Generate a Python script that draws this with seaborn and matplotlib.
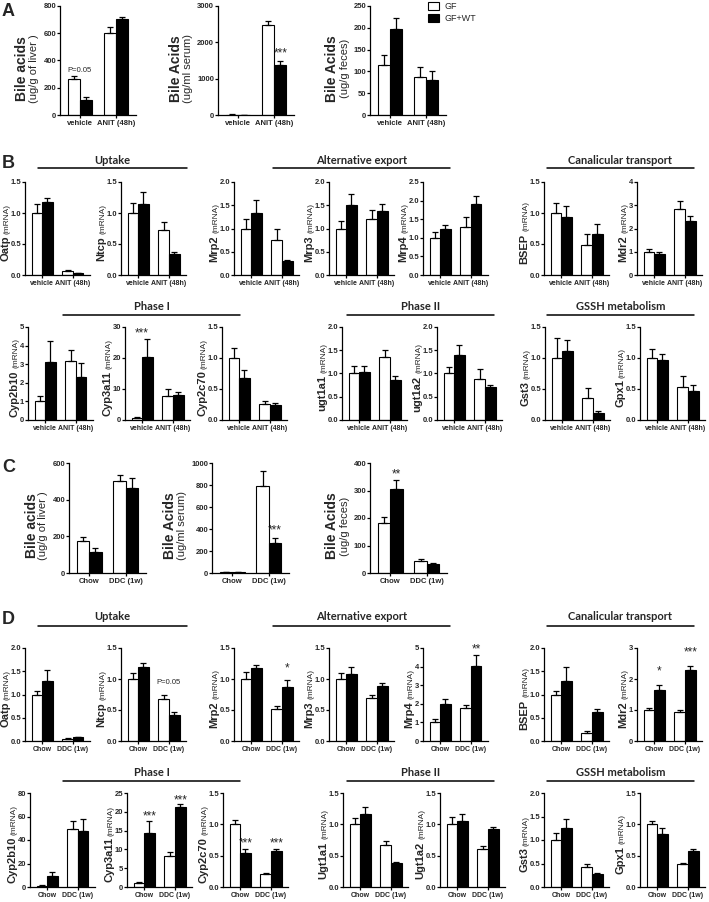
import matplotlib
matplotlib.use('Agg')
import matplotlib.pyplot as plt
from matplotlib.transforms import blended_transform_factory, IdentityTransform
import numpy as np
import pandas as pd
import seaborn as sns

GENOTYPES = ['GF', 'GF+WT']
COLORS = {'GF': 'white', 'GF+WT': 'black'}
ANIT_GROUPS = ['vehicle', 'ANIT (48h)']
DDC_GROUPS = ['Chow', 'DDC (1w)']

# every row: GF / GF+WT in first group, then GF / GF+WT in second group
A_LABELS = [('Bile acids', '(ug/g of liver )'), ('Bile Acids', '(ug/ml serum)'), ('Bile Acids', '(ug/g feces)')]
A_MEAN = [[265, 110, 600, 705], [12, 8, 2470, 1370], [115, 198, 87, 80]]
A_ERR = [[20, 25, 45, 15], [4, 3, 110, 110], [22, 25, 22, 22]]
A_YMAX = [800, 3000, 250]
A_YSTEP = [200, 1000, 50]

B1_GENES = ['Oatp', 'Ntcp', 'Mrp2', 'Mrp3', 'Mrp4', 'BSEP', 'Mdr2']
B1_MEAN = [[1.00, 1.17, 0.06, 0.03], [1.00, 1.14, 0.72, 0.34], [1.00, 1.33, 0.75, 0.30],
           [1.00, 1.50, 1.20, 1.37], [1.00, 1.25, 1.28, 1.90], [1.00, 0.93, 0.48, 0.66],
           [1.00, 0.92, 2.82, 2.32]]
B1_ERR = [[0.15, 0.08, 0.02, 0.01], [0.16, 0.20, 0.14, 0.03], [0.20, 0.28, 0.24, 0.03],
          [0.16, 0.25, 0.20, 0.15], [0.16, 0.09, 0.28, 0.22], [0.16, 0.18, 0.18, 0.16],
          [0.10, 0.05, 0.38, 0.22]]
B1_YMAX = [1.5, 1.5, 2.0, 2.0, 2.5, 1.5, 4]
B1_YSTEP = [0.5, 0.5, 0.5, 0.5, 0.5, 0.5, 1]

B2_GENES = ['Cyp2b10', 'Cyp3a11', 'Cyp2c70', 'ugt1a1', 'ugt1a2', 'Gst3', 'Gpx1']
B2_MEAN = [[1.0, 3.12, 3.17, 2.33], [0.8, 20.2, 7.7, 8.1], [1.0, 0.68, 0.26, 0.24],
           [1.0, 1.04, 1.35, 0.86], [1.0, 1.40, 0.88, 0.70], [1.0, 1.11, 0.35, 0.11],
           [1.0, 0.96, 0.54, 0.47]]
B2_ERR = [[0.3, 1.15, 0.57, 0.73], [0.2, 5.8, 2.3, 0.8], [0.16, 0.12, 0.04, 0.03],
          [0.16, 0.12, 0.16, 0.08], [0.13, 0.22, 0.21, 0.06], [0.33, 0.18, 0.16, 0.04],
          [0.15, 0.11, 0.17, 0.09]]
B2_YMAX = [5, 30, 1.5, 2.0, 2.0, 1.5, 1.5]
B2_YSTEP = [1, 10, 0.5, 0.5, 0.5, 0.5, 0.5]

C_LABELS = A_LABELS
C_MEAN = [[175, 112, 502, 465], [8, 5, 795, 275], [182, 305, 44, 32]]
C_ERR = [[22, 22, 32, 55], [3, 2, 135, 40], [22, 35, 6, 3]]
C_YMAX = [600, 1000, 400]
C_YSTEP = [200, 200, 100]

D1_GENES = B1_GENES
D1_MEAN = [[1.0, 1.30, 0.05, 0.08], [1.0, 1.20, 0.68, 0.42], [1.0, 1.18, 0.52, 0.87],
           [1.0, 1.08, 0.69, 0.88], [1.0, 2.00, 1.78, 4.05], [1.0, 1.30, 0.18, 0.63],
           [1.0, 1.65, 0.92, 2.28]]
D1_ERR = [[0.07, 0.22, 0.01, 0.01], [0.10, 0.06, 0.06, 0.04], [0.11, 0.04, 0.05, 0.12],
          [0.09, 0.12, 0.05, 0.05], [0.18, 0.25, 0.17, 0.55], [0.08, 0.30, 0.03, 0.05],
          [0.08, 0.15, 0.08, 0.15]]
D1_YMAX = [2.0, 1.5, 1.5, 1.5, 5, 2.0, 3]
D1_YSTEP = [0.5, 0.5, 0.5, 0.5, 1, 0.5, 1]

D2_GENES = ['Cyp2b10', 'Cyp3a11', 'Cyp2c70', 'Ugt1a1', 'Ugt1a2', 'Gst3', 'Gpx1']
D2_MEAN = [[1.2, 9.5, 49.5, 48], [1.0, 14.3, 8.3, 21.2], [1.0, 0.55, 0.20, 0.57],
           [1.0, 1.17, 0.67, 0.39], [1.0, 1.05, 0.60, 0.92], [1.0, 1.25, 0.43, 0.27],
           [1.0, 0.84, 0.36, 0.57]]
D2_ERR = [[0.3, 3, 7, 10], [0.3, 3.2, 1.0, 1.0], [0.07, 0.05, 0.03, 0.04],
          [0.10, 0.10, 0.06, 0.01], [0.11, 0.12, 0.05, 0.04], [0.15, 0.20, 0.05, 0.02],
          [0.06, 0.10, 0.03, 0.03]]
D2_YMAX = [80, 25, 1.5, 1.5, 1.5, 2.0, 1.5]
D2_YSTEP = [20, 5, 0.5, 0.5, 0.5, 0.5, 0.5]

# (panel row, subplot, bar index 0-3 or group 'g0'/'g1', text, y)
NOTES = [('A', 0, 'g0', 'P=0.05', 325), ('A', 1, 3, '***', 1700),
         ('B2', 1, 'g0', '***', 28.0),
         ('C', 1, 3, '***', 385), ('C', 2, 1, '**', 360),
         ('D1', 1, 'g1', 'P=0.05', 0.94), ('D1', 2, 3, '*', 1.17), ('D1', 4, 3, '**', 4.9),
         ('D1', 6, 1, '*', 2.25), ('D1', 6, 3, '***', 2.85),
         ('D2', 1, 1, '***', 18.8), ('D2', 1, 3, '***', 23.0),
         ('D2', 2, 1, '***', 0.70), ('D2', 2, 3, '***', 0.70)]

HEADERS_TOP = ['Uptake', 'Alternative export', 'Canalicular transport']
HEADERS_BOTTOM = ['Phase I', 'Phase II', 'GSSH metabolism']

sns.set_theme(style='ticks')
plt.rcParams['font.family'] = ['Liberation Sans', 'DejaVu Sans']

W, H = 709, 902
fig = plt.figure(figsize=(W / 100, H / 100), dpi=100)
bar_sets = {}


def add_px_axes(left, top, width, height):
    return fig.add_axes([left / W, 1 - (top + height) / H, width / W, height / H])


def draw_bars(ax, groups, means, errs, ymax, ystep, xsize=5.5):
    df = pd.DataFrame({
        'group': [groups[k // 2] for k in range(4)],
        'genotype': [GENOTYPES[k % 2] for k in range(4)],
        'value': means,
    })
    sns.barplot(data=df, x='group', y='value', hue='genotype', order=groups,
                hue_order=GENOTYPES, palette=COLORS, edgecolor='black', linewidth=0.8,
                width=0.68, gap=0, saturation=1, errorbar=None, legend=False, ax=ax)
    conts = list(ax.containers)
    bar_sets[ax] = conts
    for h, cont in enumerate(conts):
        for i, bar in enumerate(cont):
            x = bar.get_x() + bar.get_width() / 2
            ax.errorbar(x, bar.get_height(), yerr=[[0], [errs[i * 2 + h]]], fmt='none',
                        ecolor='black', elinewidth=0.9, capsize=2.2, capthick=0.9)
    ax.set_xlim(-0.55, 1.55)
    ax.set_ylim(0, ymax)
    ticks = np.arange(0, ymax + ystep / 2, ystep)
    ax.set_yticks(ticks)
    fmt = '{:.1f}' if ystep < 1 else '{:.0f}'
    ax.set_yticklabels([fmt.format(t) for t in ticks])
    ax.set_xlabel('')
    ax.set_ylabel('')
    sns.despine(ax=ax)
    for s in ['left', 'bottom']:
        ax.spines[s].set_linewidth(0.9)
        ax.spines[s].set_color('black')
    ax.tick_params(axis='y', length=2.0, width=0.9, pad=0.7, labelsize=5.5, color='black')
    ax.tick_params(axis='x', length=2.0, width=0.9, pad=1.5, labelsize=xsize, color='black')
    for lab in ax.get_xticklabels() + ax.get_yticklabels():
        lab.set_fontweight('bold')


axes = {}
axes['A'] = []
for k, left in enumerate([60, 218, 370]):
    ax = add_px_axes(left, 6, 76, 109)
    draw_bars(ax, ANIT_GROUPS, A_MEAN[k], A_ERR[k], A_YMAX[k], A_YSTEP[k])
    axes['A'].append(ax)

axes['B1'] = []
for k, left in enumerate([25, 121, 234, 329, 423, 544, 637]):
    ax = add_px_axes(left, 182, 65, 93)
    draw_bars(ax, ANIT_GROUPS, B1_MEAN[k], B1_ERR[k], B1_YMAX[k], B1_YSTEP[k], 5)
    axes['B1'].append(ax)

axes['B2'] = []
for k, left in enumerate([28, 125, 222, 342, 437, 545, 640]):
    ax = add_px_axes(left, 327, 65, 93)
    draw_bars(ax, ANIT_GROUPS, B2_MEAN[k], B2_ERR[k], B2_YMAX[k], B2_YSTEP[k], 5)
    axes['B2'].append(ax)

axes['C'] = []
for k, left in enumerate([69, 212, 370]):
    ax = add_px_axes(left, 463, 77, 110)
    draw_bars(ax, DDC_GROUPS, C_MEAN[k], C_ERR[k], C_YMAX[k], C_YSTEP[k])
    axes['C'].append(ax)

axes['D1'] = []
for k, left in enumerate([25, 121, 234, 329, 423, 544, 637]):
    ax = add_px_axes(left, 648, 65, 93)
    draw_bars(ax, DDC_GROUPS, D1_MEAN[k], D1_ERR[k], D1_YMAX[k], D1_YSTEP[k], 5)
    axes['D1'].append(ax)

axes['D2'] = []
for k, left in enumerate([30, 127, 223, 343, 440, 544, 640]):
    ax = add_px_axes(left, 793, 65, 94)
    draw_bars(ax, DDC_GROUPS, D2_MEAN[k], D2_ERR[k], D2_YMAX[k], D2_YSTEP[k], 5)
    axes['D2'].append(ax)

# significance marks
for key, ai, target, text, y in NOTES:
    ax = axes[key][ai]
    if isinstance(target, str):
        x = int(target[1])
    else:
        bar = bar_sets[ax][target % 2][target // 2]
        x = bar.get_x() + bar.get_width() / 2
    size = 5.5 if text.startswith('P') else 8.5
    ax.text(x, y, text, ha='center', va='center', fontsize=size)

fig.legend(handles=bar_sets[axes['A'][2]], labels=GENOTYPES, loc='upper left',
           bbox_to_anchor=(428 / W, 1 - 2 / H), frameon=False, fontsize=6.5,
           handlelength=1.2, handleheight=0.9, handletextpad=0.6, labelspacing=0.35,
           borderpad=0, borderaxespad=0)

# group headers and panel letters
ov = fig.add_axes([0, 0, 1, 1])
ov.set_xlim(0, W)
ov.set_ylim(H, 0)
ov.axis('off')
spans_top = [(38, 187), (273, 450), (547, 694)]
spans_bottom = [(63, 240), (347, 494), (547, 694)]
for names, spans, ty, ly in [(HEADERS_TOP, spans_top, 161, 168), (HEADERS_BOTTOM, spans_bottom, 307, 315),
                             (HEADERS_TOP, spans_top, 617, 626), (HEADERS_BOTTOM, spans_bottom, 772, 781)]:
    for name, (x0, x1) in zip(names, spans):
        ov.plot([x0, x1], [ly, ly], color='black', lw=1.1)
        ov.text((x0 + x1) / 2, ty, name, ha='center', va='center', fontsize=8,
                fontweight='bold', family=['Lato', 'DejaVu Sans'])
for letter, y in [('A', 11), ('B', 164), ('C', 467), ('D', 620)]:
    ov.text(2, y, letter, ha='left', va='center', fontsize=13, fontweight='bold')

# y labels placed next to the tick labels
fig.canvas.draw()
renderer = fig.canvas.get_renderer()


def tick_left(ax):
    boxes = [t.get_window_extent(renderer) for t in ax.get_yticklabels() if t.get_text()]
    return min(b.x0 for b in boxes)


gene_jobs = (list(zip(axes['B1'], B1_GENES)) + list(zip(axes['B2'], B2_GENES)) +
             list(zip(axes['D1'], D1_GENES)) + list(zip(axes['D2'], D2_GENES)))
for ax, gene in gene_jobs:
    left = tick_left(ax)
    tr = blended_transform_factory(IdentityTransform(), ax.transAxes)
    t1 = ax.text(left - 0.5, 0.5, gene, transform=tr, rotation=90, rotation_mode='anchor',
                 ha='center', va='bottom', fontsize=8, fontweight='bold')
    t2 = ax.text(left - 0.5, 0.5, '(mRNA)', transform=tr, rotation=90, rotation_mode='anchor',
                 ha='center', va='bottom', fontsize=6)
    h1 = t1.get_window_extent(renderer).height
    h2 = t2.get_window_extent(renderer).height
    hax = ax.bbox.height
    total = h1 + 2 + h2
    shift = -4 / hax
    t1.set_y(0.5 + shift + (h1 - total) / 2 / hax)
    t2.set_y(0.5 + shift + (total - h2) / 2 / hax)

bile_jobs = list(zip(axes['A'], A_LABELS)) + list(zip(axes['C'], C_LABELS))
for ax, (main, sub) in bile_jobs:
    left = tick_left(ax)
    tr = blended_transform_factory(IdentityTransform(), ax.transAxes)
    yc = 0.5 - 8 / ax.bbox.height
    t2 = ax.text(left - 4, yc, sub, transform=tr, rotation=90, rotation_mode='anchor',
                 ha='center', va='bottom', fontsize=8)
    w2 = t2.get_window_extent(renderer).width
    ax.text(left - 4 - w2, yc, main, transform=tr, rotation=90, rotation_mode='anchor',
            ha='center', va='bottom', fontsize=10, fontweight='bold')

fig.savefig('out.png', dpi=100)
